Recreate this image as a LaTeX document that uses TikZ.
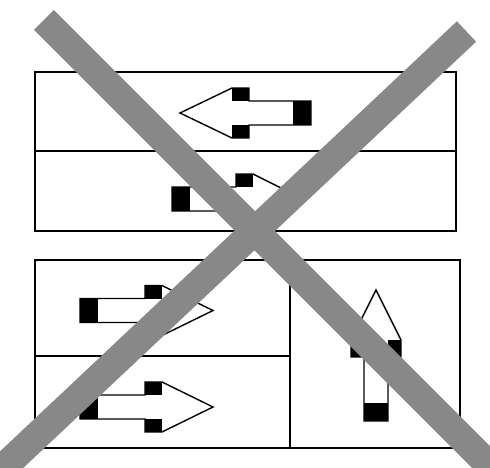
\documentclass[tikz,border=0pt]{standalone}
\begin{document}
\begin{tikzpicture}[x=1pt,y=-1pt,
  boxline/.style={line width=2.6pt,black},
  arrline/.style={line width=1.4pt,black,line join=miter},
  cross/.style={line width=28pt,color={rgb,255:red,136;green,136;blue,136},line cap=butt}]
\newcommand{\myarrow}[5]{% shift x, shift y, rotate, tail-to-head-base length, head length
  \begin{scope}[shift={(#1,#2)},rotate=#3]
    \fill[black] (0,-12) rectangle (18,12);
    \fill[black] ({#4-17},12) rectangle (#4,25);
    \fill[black] ({#4-17},-25) rectangle (#4,-12);
    \draw[arrline] (0,-12) -- ({#4-17},-12) -- ({#4-17},-25) -- (#4,-25) -- ({#4+#5},0) -- (#4,25) -- ({#4-17},25) -- ({#4-17},12) -- (0,12) -- cycle;
  \end{scope}}
\useasboundingbox (0,0) rectangle (490,468);
% top box
\draw[boxline] (35,72) rectangle (456,231);
\draw[boxline] (35,151) -- (456,151);
% bottom box
\draw[boxline] (35,260) rectangle (460,448);
\draw[boxline] (290,260) -- (290,448);
\draw[boxline] (35,356) -- (290,356);
% arrows
\myarrow{311}{113}{180}{79}{52}
\myarrow{172}{199}{0}{81}{50}
\myarrow{80}{310.5}{0}{82}{51}
\myarrow{80}{407}{0}{82}{51}
\myarrow{376}{421}{90}{81}{50}
% cross
\begin{scope}
\clip (0,0) rectangle (490,468);
\coordinate (a1) at (44,20);
\coordinate (a2) at (520,496);
\coordinate (b1) at (466.5,31.5);
\coordinate (b2) at (-10,480);
\draw[cross] (a1) -- (a2);
\draw[cross] (b1) -- (b2);
\end{scope}
\end{tikzpicture}
\end{document}
